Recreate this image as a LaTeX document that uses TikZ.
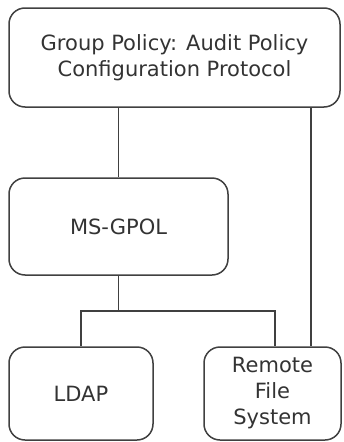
\documentclass[tikz,border=0pt]{standalone}
\usepackage{fontspec}
\setmainfont{DejaVu Sans}
\usetikzlibrary{positioning}

\begin{document}
\begin{tikzpicture}[x=1pt,y=-1pt,
    box/.style={draw=black!75, line width=1.5pt, rounded corners=16pt, align=center,
      text=black!80, font=\fontsize{21}{26}\selectfont},
    link/.style={draw=black!75, line width=1.5pt}]
    \useasboundingbox (0,0) rectangle (343,442);
    \node[box, minimum width=331pt, minimum height=99pt] (gpac) at (174.5,57.5) {Group Policy: Audit Policy\\Configuration Protocol};
    \node[box, minimum width=219pt, minimum height=97pt] (msgpol) at (118.5,226.5) {MS-GPOL};
    \node[box, minimum width=144pt, minimum height=93pt] (ldap) at (81,393.5) {LDAP};
    \node[box, minimum width=137pt, minimum height=93pt] (remote) at (272.5,393.5) {Remote\\File\\System};

    \coordinate (split) at (118.5,311);
    \draw[link] (gpac.south -| msgpol.north) -- (msgpol.north);
    \draw[link] (msgpol.south) -- (split);
    \draw[link] (ldap.north) |- (split) -| ([xshift=2.5pt]remote.north);
    \draw[link] ([xshift=38.5pt]remote.north) -- ([xshift=38.5pt]remote.north |- gpac.south);
\end{tikzpicture}
\end{document}
